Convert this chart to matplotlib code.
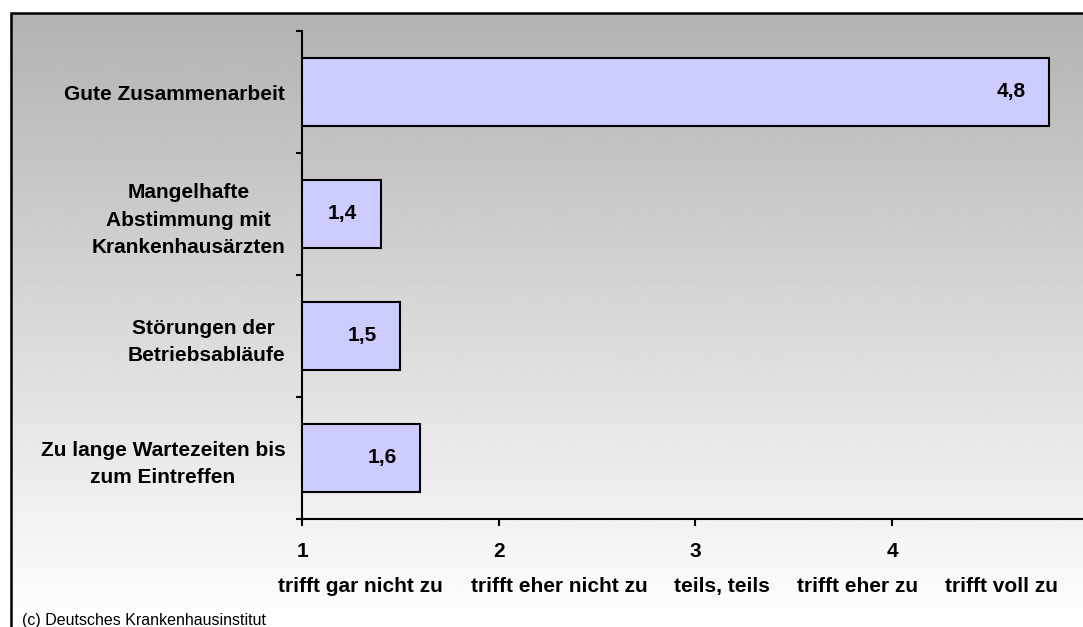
import numpy as np
import matplotlib
matplotlib.use("Agg")
import matplotlib.pyplot as plt
from matplotlib.transforms import blended_transform_factory

plt.rcParams['font.family'] = ['Liberation Sans', 'DejaVu Sans']

# daten
kategorien = ["Gute Zusammenarbeit",
              "Mangelhafte\nAbstimmung mit\nKrankenhausärzten",
              "Störungen der \nBetriebsabläufe",
              "Zu lange Wartezeiten bis\nzum Eintreffen"]
werte = [4.8, 1.4, 1.5, 1.6]
x_ticks = [1, 2, 3, 4, 5]
skala = ["trifft gar nicht zu", "trifft eher nicht zu", "teils, teils",
         "trifft eher zu", "trifft voll zu"]
skala_pos = [1.295, 2.307, 3.135, 3.826, 4.558]
quelle = "(c) Deutsches Krankenhausinstitut"

W, H = 1083, 627
fig = plt.figure(figsize=(W / 100, H / 100), dpi=100)

# hintergrund mit verlauf + rahmen
bg = fig.add_axes([0, 0, 1, 1], zorder=-1)
bg.axis("off")
grad = np.linspace(0.70, 1.0, 256).reshape(-1, 1)
bg.imshow(grad, cmap="gray", vmin=0, vmax=1, aspect="auto",
          extent=(11, W + 5, H, 13), interpolation="bilinear")
bg.plot([11, 11, W + 10], [H + 5, 13, 13], color="black", lw=1.8,
        solid_joinstyle="miter")
bg.set_xlim(0, W)
bg.set_ylim(H, 0)

ax = fig.add_axes([302 / W, 1 - 519 / H, 786.7 / W, 488 / H])
ax.patch.set_alpha(0)

y = np.arange(len(kategorien))
ax.barh(y, [w - 1 for w in werte], left=1, height=0.56, color="#ccccff",
        edgecolor="black", linewidth=1.5, zorder=3)

for i, w in enumerate(werte):
    ax.annotate(f"{w:.1f}".replace(".", ","), (w, i), xytext=(-17, 0),
                textcoords="offset points", ha="right", va="center",
                fontsize=15, fontweight="bold", zorder=4)

ax.set_xlim(1, 5)
ax.set_ylim(3.5, -0.5)

for s in ["top", "right"]:
    ax.spines[s].set_visible(False)
for s in ["left", "bottom"]:
    ax.spines[s].set_linewidth(1.5)

ax.set_xticks(x_ticks)
ax.set_xticklabels([str(t) for t in x_ticks], fontsize=15, fontweight="bold")
ax.tick_params(axis="x", direction="out", length=5, width=1.5, pad=11.5)

# striche an den kategoriegrenzen, beschriftung in der mitte
ax.set_yticks(np.arange(-0.5, len(kategorien), 1))
ax.set_yticklabels([])
ax.tick_params(axis="y", which="major", direction="out", length=4.3, width=1.5)
ax.set_yticks(y, minor=True)
ax.set_yticklabels(kategorien, minor=True, fontsize=15, fontweight="bold",
                   linespacing=1.56, multialignment="center")
ax.tick_params(axis="y", which="minor", length=0, pad=12)

tr = blended_transform_factory(ax.transData, fig.transFigure)
for txt, xp in zip(skala, skala_pos):
    ax.text(xp, 1 - 592 / H, txt, transform=tr, ha="center", va="baseline",
            fontsize=15, fontweight="bold", clip_on=False)

fig.text(22 / W, 1 - 620 / H, quelle, ha="left", va="center", fontsize=11.5)

fig.savefig("out.png", dpi=100)
